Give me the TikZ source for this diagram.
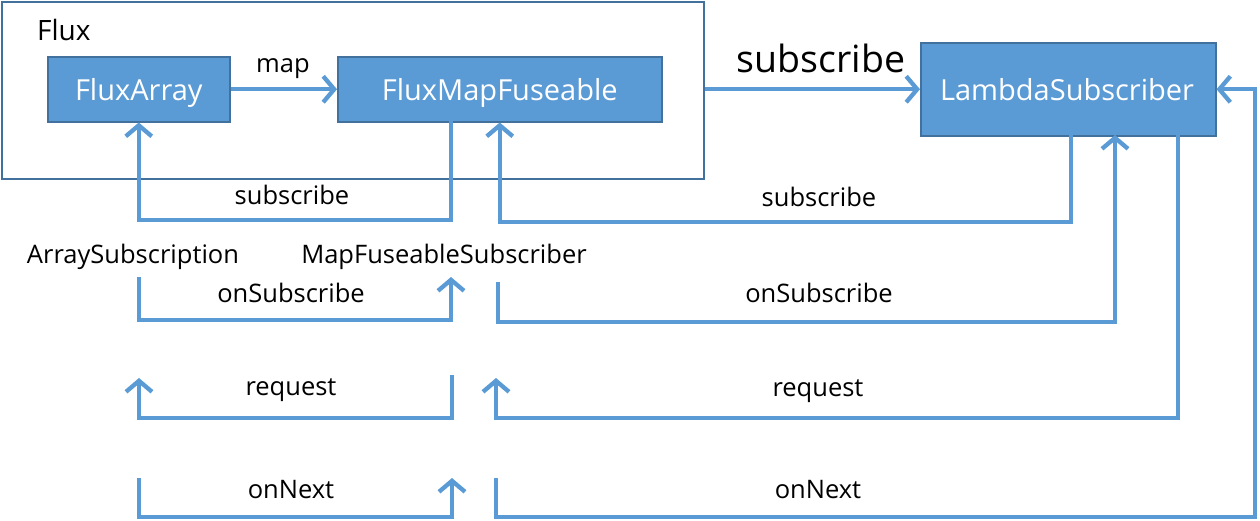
\documentclass[tikz,border=0pt]{standalone}
\usepackage{fontspec}
\setmainfont{Open Sans}
\usetikzlibrary{arrows.meta}
\definecolor{lineblue}{HTML}{5B9BD5}
\definecolor{boxedge}{HTML}{41719C}
\tikzset{
  blk/.style={draw=boxedge, line width=1.5pt, fill=lineblue, text=white, font=\fontsize{29}{32}\selectfont, inner sep=0pt, anchor=north west},
  lbl/.style={font=\fontsize{25.5}{28}\selectfont, inner sep=0pt, text depth=0pt},
  conn/.style={draw=lineblue, line width=4.3pt},
  arr/.style={conn, -{Straight Barb[length=11pt, width=26pt, line width=4.3pt]}},
}
\begin{document}
\begin{tikzpicture}[x=1pt, y=-1pt]
\useasboundingbox (0,0) rectangle (1260,520);
% Flux container
\node[draw=boxedge, line width=2pt, minimum width=702pt, minimum height=177pt, inner sep=0pt, anchor=north west] (flux) at (1,1) {};
\node[lbl, font=\fontsize{28}{30}\selectfont, anchor=west] (fluxlbl) at (37,30) {Flux};
\node[blk, minimum width=182pt, minimum height=65pt, text depth=0pt] (fa) at (47,56) {FluxArray};
\node[blk, minimum width=324pt, minimum height=65pt, text depth=0pt] (fmf) at (337,56) {FluxMapFuseable};
\node[blk, minimum width=295pt, minimum height=93pt] (ls) at (920,42) {};
\node[text=white, font=\fontsize{29}{32}\selectfont, inner sep=0pt, text depth=0pt] (lstxt) at (1067,89) {LambdaSubscriber};
% map
\draw[arr] (fa.east) -- (fmf.west);
\node[lbl] (maplbl) at (283,66) {map};
% big subscribe
\draw[arr] (flux.east |- fmf.east) -- (ls.west |- fmf.east);
\node[lbl, font=\fontsize{37.5}{40}\selectfont] (bigsub) at (821,58) {subscribe};
% labels
\node[lbl] (sub1) at (292,195) {subscribe};
\node[lbl] (sub2) at (819,197) {subscribe};
\node[lbl] (arrs) at (133,254) {ArraySubscription};
\node[lbl] (mfs) at (444,254) {MapFuseableSubscriber};
\node[lbl] (os1) at (291,293) {onSubscribe};
\node[lbl] (os2) at (819,293) {onSubscribe};
\node[lbl] (rq1) at (291,387) {request};
\node[lbl] (rq2) at (818,388) {request};
\node[lbl] (on1) at (291,489) {onNext};
\node[lbl] (on2) at (818,489) {onNext};
% coordinates
\coordinate (s1a) at (451,121);
\coordinate (s2a) at (1071,135);
\coordinate (os1a) at (139,277);
\coordinate (os1b) at (451,277);
\coordinate (os2a) at (498,282);
\coordinate (rq1a) at (452,375);
\coordinate (rq1b) at (139,378);
\coordinate (rq2a) at (1178,135);
\coordinate (rq2b) at (496,378);
\coordinate (on1a) at (139,478);
\coordinate (on1b) at (452,478);
\coordinate (on2a) at (496,478);
% subscribe loops
\draw[arr] (s1a) -- ++(0,99) -| (fa.south);
\draw[arr] (s2a) -- ++(0,87) -| (fmf.south);
% onSubscribe
\draw[arr] (os1a) -- ++(0,43) -| (os1b);
\draw[arr] (os2a) -- ++(0,40) -| (1115,135);
% request
\draw[arr] (rq1a) -- ++(0,43) -| (rq1b);
\draw[arr] (rq2a) -- ++(0,283) -| (rq2b);
% onNext
\draw[arr] (on1a) -- ++(0,39) -| (on1b);
\draw[arr] (on2a) -- ++(0,39) -- (1255,517) |- (ls.east);
\end{tikzpicture}
\end{document}
